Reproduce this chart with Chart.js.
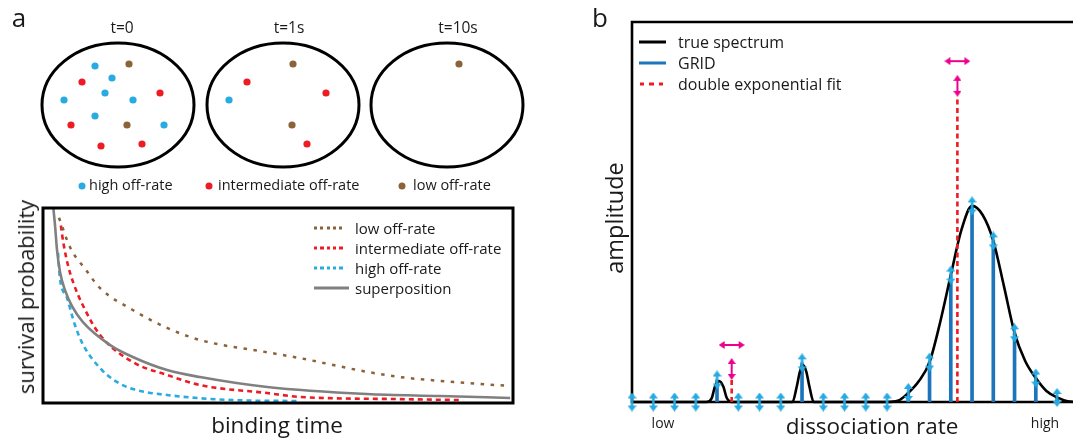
<!DOCTYPE html>
<html><head><meta charset="utf-8">
<script src="https://cdn.jsdelivr.net/npm/chart.js@4.4.1/dist/chart.umd.min.js"></script>
<style>
body{margin:0;background:#fff;}
#wrap{position:relative;width:1073px;height:440px;overflow:hidden;background:#fff;font-family:'Open Sans',sans-serif;color:#1a1a1a;}
.t{position:absolute;white-space:nowrap;line-height:1;}
.c{transform:translate(-50%,-50%);}
.l{transform:translateY(-50%);}
.r{transform:translate(-50%,-50%) rotate(-90deg);}
canvas{position:absolute;}
.dot{position:absolute;width:7px;height:7px;border-radius:50%;transform:translate(-50%,-50%);}
.sw{position:absolute;height:3px;transform:translateY(-50%);}
</style></head><body>
<div id="wrap">
<canvas id="ca1" width="540" height="200" style="left:0;top:0"></canvas>
<canvas id="ca2" width="540" height="245" style="left:0;top:195px"></canvas>
<canvas id="cb" width="513" height="440" style="left:560px;top:0"></canvas>

<div class="t c" style="left:19px;top:17px;font-size:26px;">a</div>
<div class="t c" style="left:600px;top:17px;font-size:26px;">b</div>

<div class="t c" style="left:122px;top:28px;font-size:15.5px;">t=0</div>
<div class="t c" style="left:289px;top:28px;font-size:15.5px;">t=1s</div>
<div class="t c" style="left:458px;top:28px;font-size:15.5px;">t=10s</div>

<div class="dot" style="left:82px;top:186px;background:#29abe2"></div>
<div class="t l" style="left:89px;top:185px;font-size:14.5px;">high off-rate</div>
<div class="dot" style="left:209px;top:186px;background:#ed1c24"></div>
<div class="t l" style="left:218px;top:185px;font-size:14.5px;">intermediate off-rate</div>
<div class="dot" style="left:402px;top:186px;background:#8c6239"></div>
<div class="t l" style="left:413px;top:185px;font-size:14.5px;">low off-rate</div>

<div class="t r" style="left:25px;top:297px;font-size:22px;">survival probability</div>
<div class="t c" style="left:277px;top:425px;font-size:22.5px;">binding time</div>

<div class="sw" style="left:314px;top:228px;width:32px;background:repeating-linear-gradient(to right,#8c6239 0 3px,transparent 3px 6.3px)"></div>
<div class="t l" style="left:355px;top:228px;font-size:15px;">low off-rate</div>
<div class="sw" style="left:314px;top:248px;width:32px;background:repeating-linear-gradient(to right,#ed1c24 0 3.5px,transparent 3.5px 6.3px)"></div>
<div class="t l" style="left:355px;top:248px;font-size:15px;">intermediate off-rate</div>
<div class="sw" style="left:314px;top:268px;width:32px;background:repeating-linear-gradient(to right,#29abe2 0 3.5px,transparent 3.5px 6.3px)"></div>
<div class="t l" style="left:355px;top:268px;font-size:15px;">high off-rate</div>
<div class="sw" style="left:314px;top:288px;width:35px;background:#808080"></div>
<div class="t l" style="left:355px;top:288px;font-size:15px;">superposition</div>

<div class="t r" style="left:615px;top:218px;font-size:23.5px;">amplitude</div>
<div class="t c" style="left:872px;top:426px;font-size:22.5px;">dissociation rate</div>
<div class="t c" style="left:663px;top:423px;font-size:14px;">low</div>
<div class="t c" style="left:1045px;top:423px;font-size:14px;">high</div>

<div class="sw" style="left:639px;top:42px;width:27px;background:#000"></div>
<div class="t l" style="left:678px;top:42px;font-size:16px;">true spectrum</div>
<div class="sw" style="left:639px;top:63px;width:27px;background:#1c75bc"></div>
<div class="t l" style="left:678px;top:63px;font-size:16px;">GRID</div>
<div class="sw" style="left:640px;top:84px;width:27px;background:repeating-linear-gradient(to right,#ed1c24 0 4.5px,transparent 4.5px 9.5px)"></div>
<div class="t l" style="left:678px;top:84px;font-size:16px;">double exponential fit</div>
</div>
<script>
// ---------- Panel a (top): molecules in the field of view ----------
const fieldCentersX = [118, 283, 447];
const fieldCenterY = 105;
const fieldRadiusX = 76;
const fieldRadiusY = 62;
const highX = [95, 112, 105, 64, 133, 95, 164, 229];
const highY = [66, 78, 93, 100, 100, 116, 125, 100];
const interX = [82, 160, 71, 101, 142, 247, 326, 307];
const interY = [82, 93, 125, 146, 144, 82, 93, 144];
const lowX = [129, 127, 293, 292, 459];
const lowY = [64, 125, 64, 125, 64];

// ---------- Panel a (bottom): survival probability vs binding time ----------
const superT = [2.0, 2.55, 2.98, 3.62, 4.68, 6.17, 8.5, 14.3, 19.1, 26.4, 33.4, 47.7, 68.9, 84.5, 99.4];
const superP = [1.05, 0.913, 0.785, 0.672, 0.579, 0.497, 0.415, 0.297, 0.236, 0.169, 0.133, 0.082, 0.046, 0.036, 0.026];
const lowT = [3.4, 4.3, 5.1, 6.4, 8.9, 12.1, 19.1, 26.4, 33.4, 47.7, 54.7, 68.9, 76.0, 90.2, 99.4];
const lowP = [0.95, 0.89, 0.836, 0.77, 0.69, 0.59, 0.477, 0.385, 0.323, 0.26, 0.23, 0.16, 0.133, 0.103, 0.087];
const interT = [3.8, 4.3, 5.3, 6.4, 8.5, 12.1, 19.1, 26.4, 33.4, 47.7, 54.7, 76.0, 88.7];
const interP = [0.91, 0.826, 0.708, 0.62, 0.50, 0.35, 0.21, 0.144, 0.092, 0.051, 0.031, 0.02, 0.015];
const highT = [3.2, 3.4, 3.6, 5.1, 6.8, 8.5, 12.1, 15.7, 19.1, 26.4, 40.4, 54.7];
const highP = [0.77, 0.70, 0.64, 0.54, 0.40, 0.30, 0.18, 0.108, 0.072, 0.041, 0.015, 0.01];

// ---------- Panel b: spectrum of dissociation rates ----------
const specRate = [0, 3.5, 3.75, 3.9, 4.1, 4.3, 4.45, 4.7, 7.55, 7.75, 7.9, 8.04, 8.2, 8.35, 8.55, 12.0, 12.5, 13, 13.5, 14, 14.5, 15, 15.5, 16, 16.5, 17, 17.5, 18, 18.5, 19, 19.5, 20, 20.5, 21];
const specAmp = [0, 0, 1.0, 4.0, 5.5, 4.0, 1.2, 0, 0, 4.0, 8.0, 9.7, 8.0, 4.0, 0, 0, 0.3, 2.4, 5.5, 10.5, 21, 33.4, 45.3, 51.6, 49.2, 42.4, 30.5, 18.2, 10.8, 6.3, 2.9, 1.2, 0.2, 0];
const gridRate = [0,1,2,3,4,5,6,7,8,9,10,11,12,13,14,15,16,17,18,19,20];
const gridAmp = [0,0,0,0,5.8,0,0,0,10.3,0,0,0,0,2.5,10.5,33.4,51.6,42.4,18.2,6.3,1.2];
const fitRate = [4.69, 15.31];
const fitAmp = [6.3, 80];
const arrowVAmp = [8.7, 83.2];
const arrowHAmp = [15.0, 89.7];

const zip = (xs, ys) => xs.map((x, i) => ({x, y: ys[i]}));
const baseOpts = {responsive:false, animation:false, events:[], plugins:{legend:{display:false}, tooltip:{enabled:false}}};

function arrowImg(color, w, h, head, stem, horizontal) {
  const c = document.createElement('canvas');
  c.width = horizontal ? h : w; c.height = horizontal ? w : h;
  const g = c.getContext('2d');
  g.fillStyle = color;
  if (horizontal) { g.translate(h, 0); g.rotate(Math.PI / 2); }
  g.beginPath(); g.moveTo(w/2, 0); g.lineTo(w, head); g.lineTo(0, head); g.closePath(); g.fill();
  g.fillRect(w/2 - stem/2, head - 1, stem, h - 2*head + 2);
  g.beginPath(); g.moveTo(0, h-head); g.lineTo(w, h-head); g.lineTo(w/2, h); g.closePath(); g.fill();
  return c;
}

// Panel a top
new Chart(document.getElementById('ca1'), {
  type: 'scatter',
  data: {datasets: [
    {data: zip(highX, highY), backgroundColor:'#29abe2', borderWidth:0, pointRadius:3.6},
    {data: zip(interX, interY), backgroundColor:'#ed1c24', borderWidth:0, pointRadius:3.6},
    {data: zip(lowX, lowY), backgroundColor:'#8c6239', borderWidth:0, pointRadius:3.6}
  ]},
  options: Object.assign({}, baseOpts, {
    layout:{padding:0, autoPadding:false},
    scales:{x:{type:'linear', min:0, max:540, display:false}, y:{type:'linear', min:0, max:200, reverse:true, display:false}}
  }),
  plugins: [{id:'fields', beforeDatasetsDraw(chart){
    const {x, y} = chart.scales, ctx = chart.ctx;
    ctx.save(); ctx.lineWidth = 3; ctx.strokeStyle = '#000';
    fieldCentersX.forEach(cx => {
      const px = x.getPixelForValue(cx), py = y.getPixelForValue(fieldCenterY);
      const rx = Math.abs(x.getPixelForValue(cx + fieldRadiusX) - px);
      const ry = Math.abs(y.getPixelForValue(fieldCenterY + fieldRadiusY) - py);
      ctx.beginPath(); ctx.ellipse(px, py, rx, ry, 0, 0, Math.PI*2); ctx.stroke();
    });
    ctx.restore();
  }}]
});

// Panel a bottom
const curve = (t, p, color, dash, w) => ({data: zip(t, p), borderColor: color, borderDash: dash, borderWidth: w, pointRadius: 0, fill:false, cubicInterpolationMode:'monotone'});
new Chart(document.getElementById('ca2'), {
  type: 'line',
  data: {datasets: [
    curve(superT, superP, '#808080', [], 2.6),
    curve(lowT, lowP, '#8c6239', [3.5, 6.5], 2.5),
    curve(interT, interP, '#ed1c24', [5, 4], 2.6),
    curve(highT, highP, '#29abe2', [5, 4], 2.6)
  ]},
  options: Object.assign({}, baseOpts, {
    layout:{padding:{left:43, right:27, top:13, bottom:37}, autoPadding:false},
    scales:{x:{type:'linear', min:0, max:100, display:false}, y:{type:'linear', min:0, max:1, display:false}}
  }),
  plugins: [{id:'box', afterDatasetsDraw(chart){
    const a = chart.chartArea, ctx = chart.ctx;
    ctx.save(); ctx.lineWidth = 3; ctx.strokeStyle = '#000';
    ctx.strokeRect(a.left, a.top, a.right - a.left, a.bottom - a.top);
    ctx.restore();
  }}]
});

// Panel b
const gridArrow = arrowImg('#27aae1', 9, 19, 6, 2.6, false);
const magV = arrowImg('#ec008c', 8, 22, 6, 2, false);
const magH = arrowImg('#ec008c', 8, 26, 6, 2, true);
const fitLines = fitRate.map((r, i) => ({type:'line', data:[{x:r, y:0}, {x:r, y:fitAmp[i]}], borderColor:'#ed1c24', borderWidth:2.6, borderDash:[5,3.5], pointRadius:0, clip:false}));
new Chart(document.getElementById('cb'), {
  type: 'line',
  data: {datasets: [
    {type:'line', data: zip(fitRate, arrowHAmp), showLine:false, pointStyle: magH, pointRadius:5, clip:false},
    {type:'line', data: zip(fitRate, arrowVAmp), showLine:false, pointStyle: magV, pointRadius:5, clip:false},
    {type:'line', data: zip(gridRate, gridAmp), showLine:false, pointStyle: gridArrow, pointRadius:5, clip:false},
    ...fitLines,
    {type:'line', data: zip(specRate, specAmp), borderColor:'#000', borderWidth:2.6, pointRadius:0, cubicInterpolationMode:'monotone', clip:false},
    {type:'bar', data: zip(gridRate, gridAmp), backgroundColor:'#1c75bc', barThickness:3}
  ]},
  options: Object.assign({}, baseOpts, {
    layout:{padding:{left:72, right:0, top:22, bottom:38}, autoPadding:false},
    scales:{x:{type:'linear', min:0, max:20.75, offset:false, display:false}, y:{type:'linear', min:0, max:100, display:false}}
  }),
  plugins: [{id:'frame', beforeDatasetsDraw(chart){
    const a = chart.chartArea, ctx = chart.ctx;
    ctx.save(); ctx.lineWidth = 2.6; ctx.strokeStyle = '#000';
    ctx.beginPath();
    ctx.moveTo(chart.width + 5, a.top); ctx.lineTo(a.left, a.top); ctx.lineTo(a.left, a.bottom); ctx.lineTo(chart.width + 5, a.bottom);
    ctx.stroke(); ctx.restore();
  }}]
});
</script>
</body></html>
